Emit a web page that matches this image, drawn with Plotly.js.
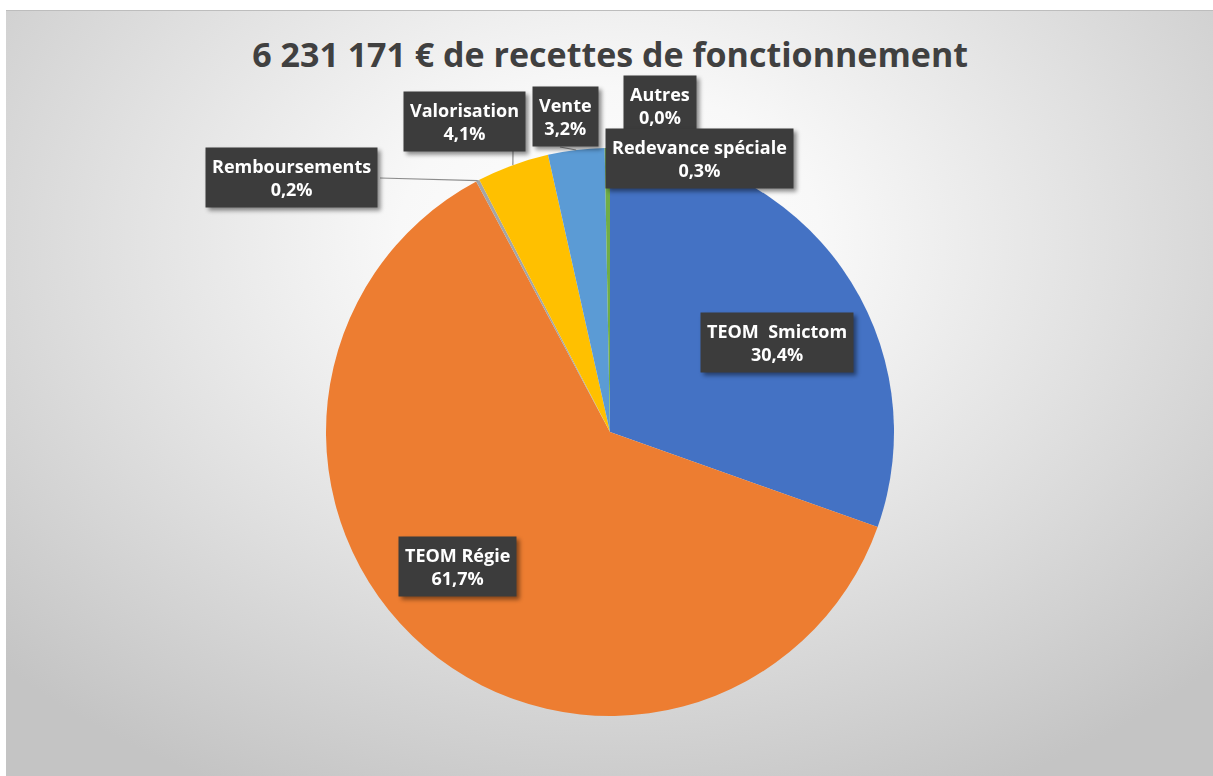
<!DOCTYPE html>
<html><head><meta charset="utf-8">
<script src="https://cdn.plot.ly/plotly-3.0.1.min.js"></script>
<style>
html,body{margin:0;padding:0;background:#fff;}
#bg{position:absolute;left:6px;top:10px;width:1207px;height:766px;border-top:1px solid #bdbdbd;box-sizing:border-box;
background:radial-gradient(ellipse 70% 80% at 50% 30%, #ffffff 0%, #f8f8f8 25%, #e0e0e0 60%, #c4c4c4 100%);}
#chart{position:absolute;left:0;top:0;width:1213px;height:776px;}
#chart .annotation{filter:drop-shadow(3px 3px 2px rgba(0,0,0,0.45));}
</style></head><body>
<div id="bg"></div><div id="chart"></div>
<script>
// ---- data ----
const categories = ['TEOM  Smictom','TEOM Régie','Remboursements','Valorisation','Vente','Redevance spéciale','Autres'];
const values = [30.4, 61.7, 0.2, 4.1, 3.2, 0.3, 0.0];   // % des recettes
const colors = ['#4472C4','#ED7D31','#A5A5A5','#FFC000','#5B9BD5','#70AD47','#264478'];
const titleText = '6 231 171 € de recettes de fonctionnement';

// ---- layout (pixels) ----
const W = 1213, H = 776;
const cx = 610, cy = 432, R = 284;
// label box centers (layout choice, px)
const labelCenter = {
  'TEOM  Smictom': [777, 342],
  'TEOM Régie': [457, 566],
  'Remboursements': [291, 178],
  'Valorisation': [464, 121],
  'Vente': [565, 116],
  'Autres': [660, 106],
  'Redevance spéciale': [699, 159]
};
// leader line start points (box edge, px)
const leaderStart = {
  'Remboursements': [380, 178],
  'Valorisation': [513, 150],
  'Vente': [560, 147]
};
const px = x => x / W, py = y => 1 - y / H;

const total = values.reduce((a,b)=>a+b,0);
let cum = 0;
const tips = {};
categories.forEach((c,i) => {
  const mid = (cum + values[i]/2) / total * 2 * Math.PI;
  cum += values[i];
  tips[c] = [cx + R*Math.sin(mid), cy - R*Math.cos(mid)];
});
const pct = v => v.toFixed(1).replace('.', ',') + '%';

const annOrder = ['TEOM  Smictom','TEOM Régie','Remboursements','Valorisation','Vente','Autres','Redevance spéciale'];
const annotations = annOrder.map(c => {
  const i = categories.indexOf(c);
  const [lx, ly] = labelCenter[c];
  return {
    xref:'paper', yref:'paper', showarrow:false,
    x:px(lx), y:py(ly),
    text: '<b>' + c + '</b><br><b>' + pct(values[i]) + '</b>',
    font:{family:'Open Sans, sans-serif', size:18, color:'#ffffff'},
    align:'center', xanchor:'center', yanchor:'middle',
    bgcolor:'#3c3c3c', borderpad:6
  };
});

const shapes = Object.keys(leaderStart).map(c => ({
  type:'line', xref:'paper', yref:'paper',
  x0:px(leaderStart[c][0]), y0:py(leaderStart[c][1]),
  x1:px(tips[c][0]), y1:py(tips[c][1]),
  line:{color:'#8c8c8c', width:1.2}
}));

const trace = {
  type:'pie', labels:categories, values:values, sort:false,
  direction:'clockwise', rotation:0,
  marker:{colors:colors, line:{width:0}},
  textinfo:'none', hoverinfo:'label+percent', showlegend:false,
  domain:{x:[px(cx-R), px(cx+R)], y:[py(cy+R), py(cy-R)]}
};

const layout = {
  width:W, height:H, margin:{l:0,r:0,t:0,b:0},
  paper_bgcolor:'rgba(0,0,0,0)', plot_bgcolor:'rgba(0,0,0,0)',
  title:{text:'<b>'+titleText+'</b>', x:0.503, xanchor:'center', y:py(55), yanchor:'middle', yref:'paper',
         font:{family:'Open Sans, sans-serif', size:34, color:'#404040'}},
  showlegend:false, annotations:annotations, shapes:shapes
};
Plotly.newPlot('chart', [trace], layout, {displayModeBar:false, staticPlot:true});
</script>
</body></html>
